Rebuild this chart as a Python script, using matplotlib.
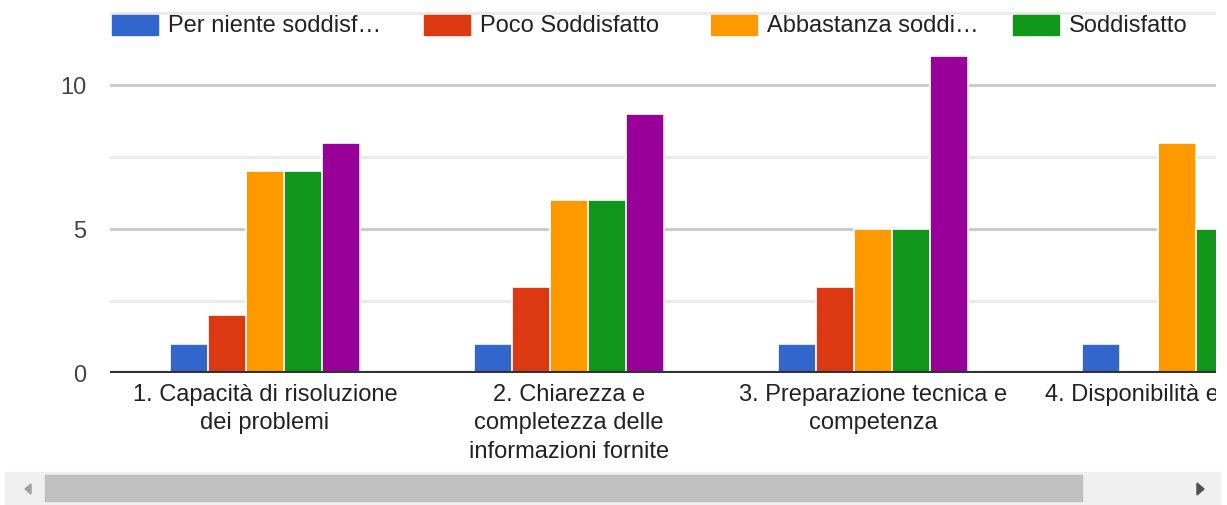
import matplotlib
matplotlib.use("Agg")
import matplotlib.pyplot as plt
import matplotlib.patches as mpatches
import matplotlib.transforms as mtransforms
import numpy as np

# --- Data ---
categories = [
    "1. Capacità di risoluzione\ndei problemi",
    "2. Chiarezza e\ncompletezza delle\ninformazioni fornite",
    "3. Preparazione tecnica e\ncompetenza",
    "4. Disponibilità e cortesia",
]
series_names = ["Per niente soddisf…", "Poco Soddisfatto", "Abbastanza soddi…", "Soddisfatto", "Molto soddisfatto"]
per_niente = [1, 1, 1, 1]
poco = [2, 3, 3, 0]
abbastanza = [7, 6, 5, 8]
soddisfatto = [7, 6, 5, 5]
molto = [8, 9, 11, 11]
y_ticks = [0, 5, 10]

series = [per_niente, poco, abbastanza, soddisfatto, molto]
colors = ["#3366cc", "#dc3912", "#ff9900", "#109618", "#990099"]

# --- Figure ---
W, H, DPI = 1227, 505, 100
FS = 17
plt.rcParams["font.family"] = ["Liberation Sans", "DejaVu Sans"]
fig = plt.figure(figsize=(W / DPI, H / DPI), dpi=DPI)

ax_left, ax_right, ax_bottom = 110, 1216, 373
ax = fig.add_axes([ax_left / W, (H - ax_bottom) / H, (ax_right - ax_left) / W, ax_bottom / H])

unit_px = 28.8
ax.set_ylim(0, ax_bottom / unit_px)
ax.set_xlim(-0.51, 3.128)

x = np.arange(len(categories))
bw = 0.125
for i, (vals, c) in enumerate(zip(series, colors)):
    ax.bar(x + (i - 2) * bw, vals, width=bw, color=c, edgecolor="white",
           linewidth=1.2, zorder=3)

# gridlines
for v in [2.5, 7.5, 12.5]:
    ax.axhline(v, color="#ebebeb", lw=2.2, zorder=1)
for v in [5, 10]:
    ax.axhline(v, color="#cccccc", lw=2.2, zorder=1)
ax.axhline(0, color="#333333", lw=3, zorder=4)

for s in ax.spines.values():
    s.set_visible(False)
ax.set_xticks([])
ax.set_yticks(y_ticks)
ax.set_yticklabels([str(t) for t in y_ticks], fontsize=FS, color="#444444")
ax.tick_params(axis="y", length=0, pad=17)

# category labels, clipped at the right edge of the chart area
clip = mtransforms.Bbox([[ax_left, 0], [ax_right, H]])
lab_tr = ax.get_xaxis_transform() + mtransforms.ScaledTranslation(0, -11 / DPI, fig.dpi_scale_trans)
for xi, lab in zip(x, categories):
    t = ax.text(xi, 0, lab, transform=lab_tr, ha="center", va="top",
                fontsize=FS, color="#222222", linespacing=1.37, multialignment="center")
    t.set_clip_box(clip)
    t.set_clip_on(True)

# --- Legend (drawn by hand, like google charts) ---
leg_y = 25
leg_items = [(112, series_names[0]), (424, series_names[1]), (711, series_names[2]), (1013, series_names[3])]
for (lx, name), c in zip(leg_items, colors):
    fig.patches.append(mpatches.Rectangle((lx / W, (H - leg_y - 10) / H), 46 / W, 20 / H,
                                          transform=fig.transFigure, color=c, zorder=5))
    fig.text((lx + 56) / W, (H - leg_y - 1) / H, name, fontsize=FS, color="#222222",
             va="center", ha="left", zorder=6)

# --- Scrollbar ---
fig.patches.append(mpatches.Rectangle((5 / W, (H - 504) / H), 1215 / W, 32 / H,
                                      transform=fig.transFigure, color="#f0f0f0", zorder=1))
fig.patches.append(mpatches.Rectangle((45 / W, (H - 501) / H), 1037 / W, 26 / H,
                                      transform=fig.transFigure, color="#c0c0c0", zorder=2))
ya = (H - 489) / H
fig.patches.append(mpatches.Polygon([[31 / W, ya + 5 / H], [31 / W, ya - 5 / H], [25 / W, ya]],
                                    closed=True, transform=fig.transFigure, color="#a0a0a0", zorder=3))
fig.patches.append(mpatches.Polygon([[1197 / W, ya + 6 / H], [1197 / W, ya - 6 / H], [1204 / W, ya]],
                                    closed=True, transform=fig.transFigure, color="#505050", zorder=3))

fig.savefig("out.png", dpi=DPI)
